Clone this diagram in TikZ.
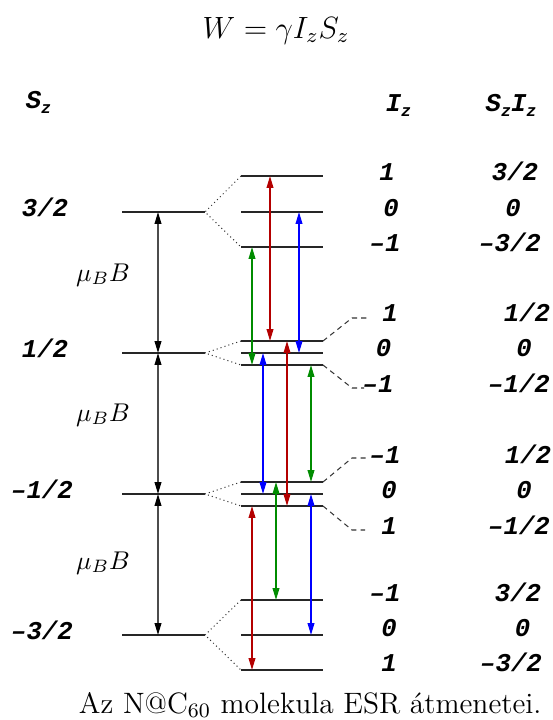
\documentclass[tikz,border=0pt]{standalone}
\usepackage{fontspec}
\setmonofont{Liberation Mono}
\usetikzlibrary{arrows.meta}
\definecolor{arred}{RGB}{180,0,0}
\definecolor{argreen}{RGB}{0,140,0}
\definecolor{arblue}{RGB}{0,0,255}
\newcommand\subz{\raisebox{-2.2pt}{\fontsize{6.5}{6.5}\selectfont z}}
\tikzset{
  lvl/.style={line width=0.45pt, black!85},
  dotln/.style={line width=0.4pt, black!80, dash pattern=on 0.4pt off 1.2pt},
  dashln/.style={line width=0.4pt, black!80, dash pattern=on 2pt off 1.6pt},
  trans/.style={line width=0.5pt, {Triangle[length=4.6pt,width=2.6pt]}-{Triangle[length=4.6pt,width=2.6pt]}},
  gap/.style={line width=0.5pt, black!70, {Triangle[length=4.6pt,width=2.6pt,color=black]}-{Triangle[length=4.6pt,width=2.6pt,color=black]}},
  lab/.style={font=\ttfamily\bfseries\itshape, inner sep=0pt, anchor=base},
  mub/.style={inner sep=0pt, anchor=base}
}
\begin{document}
\begin{tikzpicture}[x=0.39pt,y=-0.39pt]
\useasboundingbox (0,0) rectangle (553,720);
% title and caption
\node[font=\large, anchor=base, inner sep=0pt] (title) at (276,38) {$W=\gamma I_zS_z$};
\node[font=\fontsize{11.5}{13}\selectfont, anchor=base east, inner sep=0pt] (cap) at (542,713) {Az N@C$_{60}$ molekula ESR átmenetei.};
% headers
\node[lab] (hS) at (38.5,108) {S\subz};
\node[lab] (hI) at (398.5,111) {I\subz};
\node[lab] (hSI) at (511,111) {S\subz I\subz};
% main levels
\coordinate (Al) at (122,212); \coordinate (Ar) at (205,212);
\coordinate (Bl) at (122,353); \coordinate (Br) at (205,353);
\coordinate (Cl) at (122,494); \coordinate (Cr) at (205,494);
\coordinate (Dl) at (122,635); \coordinate (Dr) at (205,635);
\foreach \n in {A,B,C,D} \draw[lvl] (\n l) -- (\n r);
% sublevels
\coordinate (a1) at (241,176); \coordinate (a1e) at (323,176);
\coordinate (a0) at (241,212); \coordinate (a0e) at (323,212);
\coordinate (am) at (241,247); \coordinate (ame) at (323,247);
\coordinate (b1) at (241,341); \coordinate (b1e) at (323,341);
\coordinate (b0) at (241,353); \coordinate (b0e) at (323,353);
\coordinate (bm) at (241,365); \coordinate (bme) at (323,365);
\coordinate (cm) at (241,482); \coordinate (cme) at (323,482);
\coordinate (c0) at (241,494); \coordinate (c0e) at (323,494);
\coordinate (c1) at (241,506); \coordinate (c1e) at (323,506);
\coordinate (dm) at (241,600); \coordinate (dme) at (323,600);
\coordinate (d0) at (241,635); \coordinate (d0e) at (323,635);
\coordinate (d1) at (241,670); \coordinate (d1e) at (323,670);
\foreach \n in {a1,a0,am,b1,b0,bm,cm,c0,c1,dm,d0,d1} \draw[lvl] (\n) -- (\n e);
% dotted splitting lines
\draw[dotln] (a1) -- (Ar) -- (am);
\draw[dotln] (b1) -- (Br) -- (bm);
\draw[dotln] (cm) -- (Cr) -- (c1);
\draw[dotln] (dm) -- (Dr) -- (d1);
% dashed leaders
\coordinate (b1k) at (352,318); \coordinate (b1d) at (367,318);
\coordinate (bmk) at (352,388); \coordinate (bmd) at (364,388);
\coordinate (cmk) at (352,458); \coordinate (cmd) at (367,458);
\coordinate (c1k) at (352,530); \coordinate (c1d) at (365,530);
\draw[dashln] (b1e) -- (b1k) -- (b1d);
\draw[dashln] (bme) -- (bmk) -- (bmd);
\draw[dashln] (cme) -- (cmk) -- (cmd);
\draw[dashln] (c1e) -- (c1k) -- (c1d);
% gap arrows
\coordinate (xM) at (158,0);
\draw[gap] (Ar -| xM) -- (Br -| xM);
\draw[gap] (Br -| xM) -- (Cr -| xM);
\draw[gap] (Cr -| xM) -- (Dr -| xM);
\node[mub] (mu1) at (103,281) {$\mu_BB$};
\node[mub] (mu2) at (103,421) {$\mu_BB$};
\node[mub] (mu3) at (103,569) {$\mu_BB$};
% transition columns
\coordinate (x1) at (252,0); \coordinate (x2) at (263,0);
\coordinate (x3) at (270,0); \coordinate (x4) at (276,0);
\coordinate (x5) at (287,0); \coordinate (x6) at (299,0);
\coordinate (x7) at (311,0);
\draw[trans, arred] (a1 -| x3) -- (b1 -| x3);
\draw[trans, arblue] (a0 -| x6) -- (b0 -| x6);
\draw[trans, argreen] (am -| x1) -- (bm -| x1);
\draw[trans, arblue] (b0 -| x2) -- (c0 -| x2);
\draw[trans, arred] (b1 -| x5) -- (c1 -| x5);
\draw[trans, argreen] (bm -| x7) -- (cm -| x7);
\draw[trans, arred] (c1 -| x1) -- (d1 -| x1);
\draw[trans, argreen] (cm -| x4) -- (dm -| x4);
\draw[trans, arblue] (c0 -| x7) -- (d0 -| x7);
% S_z labels
\node[lab] (s3) at (45,216.5) {3/2};
\node[lab] (s1) at (45,357.5) {1/2};
\node[lab] (sm1) at (42,498.5) {–1/2};
\node[lab] (sm3) at (42,639.5) {–3/2};
% I_z and S_zI_z labels
\node[lab] (ia1) at (387,180.5) {1};
\node[lab] (ia0) at (391,216.5) {0};
\node[lab] (iam) at (385,251.5) {–1};
\node[lab] (pa1) at (515,180.5) {3/2};
\node[lab] (pa0) at (513,216.5) {0};
\node[lab] (pam) at (510,251.5) {–3/2};
\node[lab] (ib1) at (390,321) {1};
\node[lab] (ib0) at (383.5,356.5) {0};
\node[lab] (ibm) at (378,392) {–1};
\node[lab] (pb1) at (527,321) {1/2};
\node[lab] (pb0) at (524,356.5) {0};
\node[lab] (pbm) at (519,392) {–1/2};
\node[lab] (icm) at (385,463) {–1};
\node[lab] (ic0) at (389,498) {0};
\node[lab] (ic1) at (389,534.5) {1};
\node[lab] (pcm) at (528,463) {1/2};
\node[lab] (pc0) at (524,498) {0};
\node[lab] (pc1) at (519,534.5) {–1/2};
\node[lab] (idm) at (385,601) {–1};
\node[lab] (id0) at (389,636) {0};
\node[lab] (id1) at (389,671) {1};
\node[lab] (pdm) at (518,601) {3/2};
\node[lab] (pd0) at (522.5,636) {0};
\node[lab] (pd1) at (511,671) {–3/2};
\end{tikzpicture}
\end{document}
